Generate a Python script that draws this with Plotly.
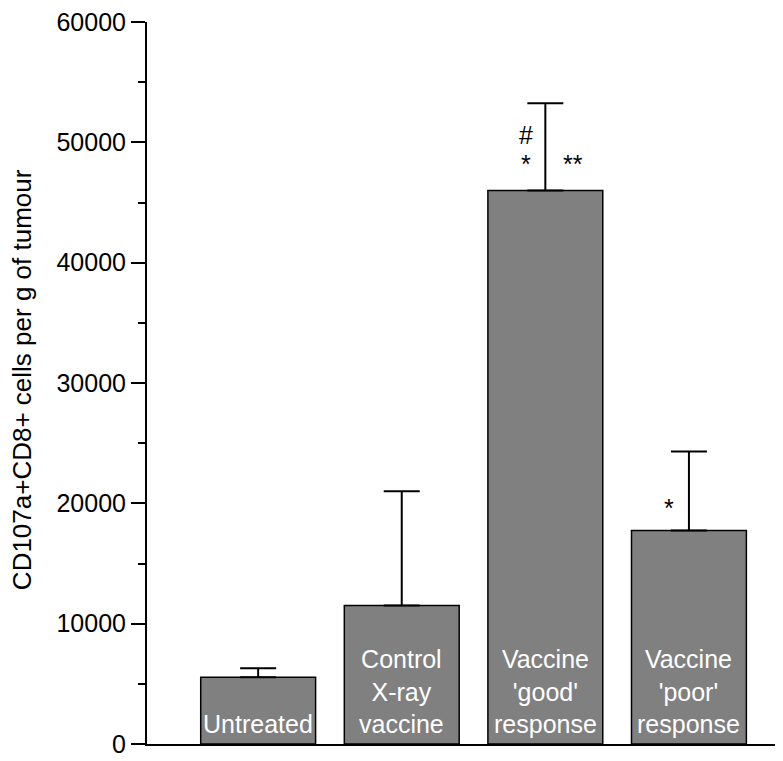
import plotly.graph_objects as go

categories = ["Untreated", "Control<br>X-ray<br>vaccine", "Vaccine<br>'good'<br>response", "Vaccine<br>'poor'<br>response"]
cells_per_g = [5550, 11500, 46000, 17750]
error_plus = [750, 9500, 7250, 6550]

# significance marks: (text, bar index, y value, x offset px)
sig_marks = [("#", 2, 50600, -19), ("*", 2, 48200, -19), ("**", 2, 48200, 28), ("*", 3, 19600, -20)]

font_family = "Liberation Sans, Arial, sans-serif"
x_pos = list(range(len(categories)))

fig = go.Figure()
fig.add_trace(go.Bar(
    x=x_pos, y=cells_per_g, width=0.8,
    marker=dict(color="#808080", line=dict(color="black", width=1.5)),
    error_y=dict(type="data", array=error_plus, symmetric=False, arrayminus=[0] * 4,
                 color="black", thickness=2, width=18),
    showlegend=False, hoverinfo="skip",
))

# bar labels inside the bars, bottom aligned
for i, lab in enumerate(categories):
    fig.add_annotation(x=i, y=0, text=lab, showarrow=False, yanchor="bottom", yshift=4,
                       font=dict(color="white", size=25, family=font_family))

for txt, i, yv, dx in sig_marks:
    fig.add_annotation(x=i, y=yv, text=txt, showarrow=False, xshift=dx,
                       font=dict(color="black", size=25, family=font_family))

fig.add_annotation(xref="paper", yref="paper", x=-0.1965, y=0.504, textangle=-90,
                   xanchor="center", yanchor="middle",
                   text="CD107a+CD8+ cells per g of tumour", showarrow=False,
                   font=dict(color="black", size=26, family=font_family))

fig.update_xaxes(range=[-0.774, 3.655], showline=True, linecolor="black", linewidth=2,
                 showticklabels=False, ticks="", showgrid=False, zeroline=False)
fig.update_yaxes(range=[0, 60000], dtick=10000, showline=True, linecolor="black", linewidth=2,
                 ticks="outside", ticklen=14, tickwidth=2, tickcolor="black",
                 minor=dict(dtick=5000, ticks="outside", ticklen=7, tickwidth=2, tickcolor="black"),
                 showgrid=False, zeroline=False, tickformat="d", ticklabeloverflow="allow",
                 tickfont=dict(size=25, color="black", family=font_family))

# page body has an 8px margin, so the figure is sized to fill the rest
fig.update_layout(width=775, height=753, margin=dict(l=139, r=0, t=7, b=17),
                  plot_bgcolor="white", paper_bgcolor="white", bargap=0.2)

fig.write_html("out.html")
